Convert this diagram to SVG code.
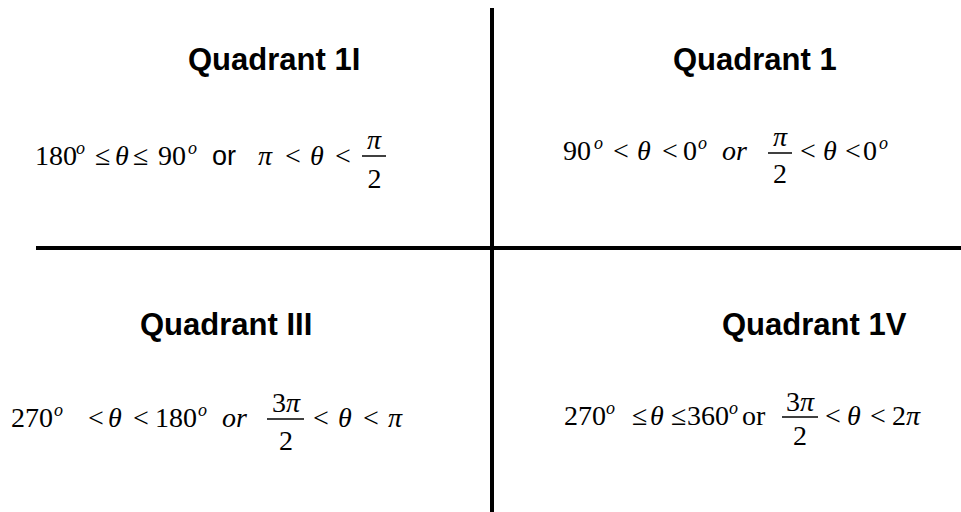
<svg xmlns="http://www.w3.org/2000/svg" width="961" height="512" viewBox="0 0 961 512">
<style>
.title{font-family:"Liberation Sans",Arial,sans-serif;font-weight:bold;font-size:31px;fill:#000}
.m{font-family:"Liberation Serif","Times New Roman",serif;font-size:28px;fill:#000}
.i{font-style:italic}
.sup{font-family:"Liberation Serif","Times New Roman",serif;font-style:italic;font-size:18px;fill:#000}
.ar{font-family:"Liberation Sans",Arial,sans-serif;font-size:27px;fill:#000}
.bar{stroke:#000;stroke-width:1.5}
.axis{stroke:#000;stroke-width:4}
</style>
<rect width="961" height="512" fill="#fff"/>
<g id="axes">
<line class="axis" x1="492" y1="8" x2="492" y2="512"/>
<line class="axis" x1="36" y1="248" x2="961" y2="248"/>
</g>
<g id="q2">
<text class="title" x="188" y="70">Quadrant 1I</text>
<text class="m" y="165"><tspan x="35">180</tspan><tspan x="95">≤</tspan><tspan x="115" class="i">θ</tspan><tspan x="133">≤</tspan><tspan x="158">90</tspan><tspan x="258" class="i">π</tspan><tspan x="285">&lt;</tspan><tspan x="310" class="i">θ</tspan><tspan x="335">&lt;</tspan></text>
<text class="sup" y="154"><tspan x="76">o</tspan><tspan x="188">o</tspan></text>
<text class="ar" x="212" y="165">or</text>
<line class="bar" x1="362" y1="156" x2="386" y2="156"/>
<text class="m i" x="374" y="149" text-anchor="middle">π</text>
<text class="m" x="374.5" y="188" text-anchor="middle">2</text>
</g>
<g id="q1">
<text class="title" x="673" y="70">Quadrant 1</text>
<text class="m" y="160"><tspan x="563">90</tspan><tspan x="613">&lt;</tspan><tspan x="637" class="i">θ</tspan><tspan x="662">&lt;</tspan><tspan x="683">0</tspan><tspan x="722" class="i">or</tspan><tspan x="800">&lt;</tspan><tspan x="823" class="i">θ</tspan><tspan x="845">&lt;</tspan><tspan x="863">0</tspan></text>
<text class="sup" y="149"><tspan x="594">o</tspan><tspan x="698">o</tspan><tspan x="879">o</tspan></text>
<line class="bar" x1="768" y1="153" x2="792" y2="153"/>
<text class="m i" x="780" y="146" text-anchor="middle">π</text>
<text class="m" x="780" y="183" text-anchor="middle">2</text>
</g>
<g id="q3">
<text class="title" x="140" y="335">Quadrant III</text>
<text class="m" y="427"><tspan x="11">270</tspan><tspan x="88">&lt;</tspan><tspan x="108" class="i">θ</tspan><tspan x="133">&lt;</tspan><tspan x="155">180</tspan><tspan x="222" class="i">or</tspan><tspan x="313">&lt;</tspan><tspan x="338" class="i">θ</tspan><tspan x="363">&lt;</tspan><tspan x="388" class="i">π</tspan></text>
<text class="sup" y="416"><tspan x="54">o</tspan><tspan x="198">o</tspan></text>
<line class="bar" x1="267" y1="419" x2="304" y2="419"/>
<text class="m" x="286" y="412" text-anchor="middle">3<tspan class="i">π</tspan></text>
<text class="m" x="286" y="450" text-anchor="middle">2</text>
</g>
<g id="q4">
<text class="title" x="722" y="335">Quadrant 1V</text>
<text class="m" y="425"><tspan x="564">270</tspan><tspan x="632">≤</tspan><tspan x="650" class="i">θ</tspan><tspan x="671">≤</tspan><tspan x="687">360</tspan><tspan x="742">or</tspan><tspan x="825">&lt;</tspan><tspan x="847" class="i">θ</tspan><tspan x="870">&lt;</tspan><tspan x="892">2</tspan><tspan class="i">π</tspan></text>
<text class="sup" y="414"><tspan x="606">o</tspan><tspan x="729">o</tspan></text>
<line class="bar" x1="782" y1="417" x2="818" y2="417"/>
<text class="m" x="800" y="411" text-anchor="middle">3<tspan class="i">π</tspan></text>
<text class="m" x="800" y="445" text-anchor="middle">2</text>
</g>
</svg>
